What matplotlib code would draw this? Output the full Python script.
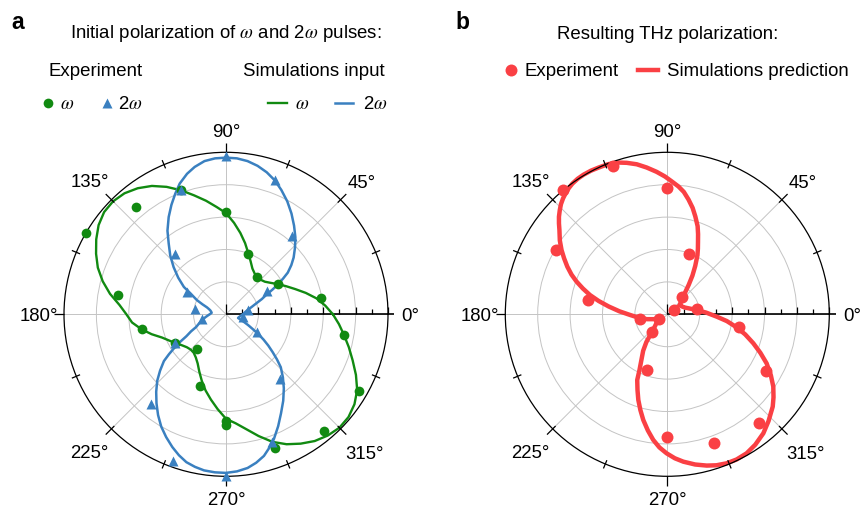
import numpy as np
import matplotlib
matplotlib.use('Agg')
import matplotlib.pyplot as plt
from matplotlib.lines import Line2D
from matplotlib.transforms import offset_copy

plt.rcParams['font.family'] = ['Liberation Sans', 'DejaVu Sans']
plt.rcParams['mathtext.fontset'] = 'stix'

W, H = 861, 508
GREEN = '#118a11'
BLUE = '#3a80c0'
RED = '#fa4044'
GRID = '#c4c4c4'

# ---------------- data (angles in degrees, normalised radius) ----------------
exp_angles = [10, 30, 50, 70, 90, 110, 130, 150, 170, 190, 210, 230, 250, 270, 290, 310, 330, 350]

omega_exp_angles = [10, 30, 50, 70, 90, 110, 130, 150, 170, 190, 210, 230, 250, 270, 270, 290, 310, 330, 350]
omega_exp_r = [0.597, 0.374, 0.299, 0.394, 0.632, 0.815, 0.867, 1.0, 0.679, 0.527, 0.36, 0.277,
               0.472, 0.66, 0.685, 0.879, 0.939, 0.95, 0.741]

two_omega_exp_r = [0.139, 0.293, 0.63, 0.881, 0.98, 0.815, 0.488, 0.281, 0.193, 0.15, 0.36, 0.72,
                   0.961, 1.0, 0.839, 0.523, 0.22, 0.105]

thz_exp_r = [0.184, 0.051, 0.143, 0.397, 0.778, 0.971, 1.0, 0.794, 0.495, 0.172, 0.06, 0.145,
             0.365, 0.755, 0.847, 0.878, 0.704, 0.45]

omega_sim_theta = [0, 5, 10, 15, 20, 25, 30, 35, 40, 45, 50, 55, 60, 65, 70, 75, 80, 85, 90, 95,
                   100, 105, 110, 115, 120, 125, 130, 135, 140, 145, 150, 155, 160, 165, 170, 175,
                   180, 185, 190, 195, 200, 205, 210, 215, 220, 225, 230, 235, 240, 245, 250, 255,
                   260, 265, 270, 275, 280, 285, 290, 295, 300, 305, 310, 315, 320, 325, 330, 335,
                   340, 345, 350, 355, 360]
omega_sim_r = [0.66, 0.615, 0.567, 0.51, 0.455, 0.41, 0.372, 0.338, 0.313, 0.302, 0.298, 0.308,
               0.326, 0.36, 0.402, 0.455, 0.51, 0.567, 0.625, 0.665, 0.712, 0.76, 0.815, 0.868,
               0.915, 0.95, 0.975, 0.986, 0.982, 0.96, 0.925, 0.885, 0.842, 0.788, 0.727, 0.66,
               0.615, 0.582, 0.53, 0.475, 0.42, 0.385, 0.357, 0.333, 0.316, 0.308, 0.31, 0.325,
               0.35, 0.39, 0.437, 0.487, 0.535, 0.588, 0.645, 0.675, 0.72, 0.778, 0.838, 0.885,
               0.922, 0.955, 0.977, 0.99, 0.987, 0.968, 0.935, 0.885, 0.832, 0.785, 0.74, 0.70,
               0.66]

two_omega_sim_theta = [90, 86, 82, 78, 74, 70, 66, 61.5, 57, 52.5, 48, 44, 40, 37, 34, 32, 30, 28,
                       26, 23, 20, 16, 12, 7, 2, -3, -8, -13, -17, -23, -26, -29, -31.5, -34,
                       -36.5, -39, -41.5, -44, -48, -52, -56.5, -61, -65, -69, -72, -75, -78.5,
                       -82, -86, -90, -94, -98, -101.5, -105, -108.5, -112, -116, -120, -124,
                       -128, -132, -136, -139.5, -143, -145, -147, -149, -151, -154, -157, -162,
                       -167, -172, -177, -181.5, -186, -190, -194, -197, -200, -203, -206, -210.5,
                       -213, -217.5, -222, -226.5, -231, -235, -239.5, -243.5, -247.2, -250.5,
                       -254.5, -258, -262, -266, -270]
two_omega_sim_r = [0.967, 0.965, 0.955, 0.937, 0.912, 0.88, 0.84, 0.793, 0.742, 0.69, 0.64, 0.592,
                   0.545, 0.505, 0.46, 0.415, 0.37, 0.325, 0.28, 0.24, 0.2, 0.165, 0.14, 0.12,
                   0.108, 0.097, 0.088, 0.081, 0.078, 0.12, 0.152, 0.19, 0.235, 0.28, 0.325, 0.37,
                   0.42, 0.47, 0.525, 0.58, 0.64, 0.7, 0.762, 0.825, 0.866, 0.905, 0.935, 0.958,
                   0.972, 0.979, 0.978, 0.973, 0.961, 0.945, 0.917, 0.884, 0.843, 0.8, 0.75, 0.697,
                   0.644, 0.59, 0.535, 0.48, 0.43, 0.38, 0.33, 0.28, 0.24, 0.2, 0.172, 0.15, 0.128,
                   0.11, 0.097, 0.089, 0.093, 0.1, 0.11, 0.125, 0.158, 0.2, 0.255, 0.31, 0.372,
                   0.435, 0.5, 0.562, 0.63, 0.697, 0.755, 0.808, 0.856, 0.9, 0.93, 0.955, 0.965,
                   0.967]

thz_sim_theta = [36.4, 44, 50, 54, 57, 60, 63, 65, 67, 69, 71, 74, 76.6, 79.5, 82.3, 85, 88, 91,
                 94.3, 98, 101.5, 105, 108, 111.5, 115, 118, 121, 123.5, 126, 128, 130, 132, 134,
                 136, 138, 140, 142, 145.5, 148.7, 151.5, 154.5, 157.5, 160.2, 163, 166, 169,
                 172.4, 176.5, 181, 188, 193.6, 201, 205, 209, 216, 222, 227, 230.5, 233, 236.5,
                 240.5, 243.5, 245.4, 248.5, 251.3, 254.3, 257.2, 260.5, 263.6, 266.6, 269.7,
                 273, 276.2, 280.5, 284.6, 288, 291.7, 295.5, 299.7, 304, 308.9, 313.5, 318.8,
                 322, 325.7, 329.5, 333.7, 337.5, 341.4, 345.5, 349.4, 353.5, 357.3, 362.5,
                 368.4, 374, 380.7, 388, 396.4]
thz_sim_r = [0.097, 0.12, 0.165, 0.225, 0.285, 0.345, 0.41, 0.447, 0.485, 0.53, 0.575, 0.628,
             0.675, 0.72, 0.762, 0.792, 0.82, 0.851, 0.882, 0.915, 0.945, 0.968, 0.985, 0.996, 1.0,
             1.004, 1.005, 1.003, 0.997, 0.988, 0.976, 0.962, 0.945, 0.923, 0.9, 0.873, 0.845,
             0.805, 0.764, 0.725, 0.684, 0.64, 0.595, 0.545, 0.492, 0.432, 0.365, 0.295, 0.23,
             0.17, 0.128, 0.084, 0.071, 0.064, 0.079, 0.097, 0.125, 0.165, 0.215, 0.27, 0.325,
             0.385, 0.446, 0.502, 0.558, 0.614, 0.669, 0.727, 0.78, 0.823, 0.858, 0.89, 0.915,
             0.943, 0.965, 0.98, 0.99, 0.993, 0.988, 0.971, 0.944, 0.908, 0.865, 0.832, 0.792,
             0.742, 0.684, 0.622, 0.56, 0.497, 0.435, 0.37, 0.305, 0.24, 0.183, 0.145, 0.117,
             0.103, 0.097]

angle_labels = ['0°', '45°', '90°', '135°', '180°', '225°', '270°', '315°']
angle_label_pos = [(0, 1.14), (44.5, 1.17), (90, 1.135), (135.5, 1.18),
                   (180, 1.155), (225, 1.195), (270, 1.132), (315, 1.205)]

rad = np.deg2rad
FS = 13.4


def setup(ax):
    ax.set_ylim(0, 1)
    ax.set_rticks([0.2, 0.4, 0.6, 0.8])
    ax.set_yticklabels([])
    ax.set_thetagrids(np.arange(0, 360, 45), labels=[''] * 8)
    ax.grid(True, color=GRID, lw=0.7)
    ax.spines['polar'].set_linewidth(0.9)
    ax.spines['polar'].set_color('k')
    ax.tick_params(axis='both', length=0, pad=0)
    for a in np.arange(0, 360, 22.5):
        if a == 0:
            continue
        if a % 90 == 0:
            r0, r1 = 1.0, 1.06
        elif a % 45 == 0:
            r0, r1 = 0.975, 1.05
        else:
            r0, r1 = 0.975, 1.03
        ax.plot([rad(a)] * 2, [r0, r1], color='k', lw=0.9, clip_on=False,
                solid_capstyle='butt', zorder=3)
    ax.plot([0, 0], [0, 1.04], color='k', lw=1.2, clip_on=False, zorder=1.8,
            solid_capstyle='butt')
    minor = [0.1, 0.3, 0.5, 0.7, 0.9]
    major = [0.2, 0.4, 0.6, 0.8, 1.0]
    ax.plot([0] * len(minor), minor, ls='', marker=2, ms=3.6, mew=0.9, color='k',
            clip_on=False, zorder=1.8)
    ax.plot([0] * len(major), major, ls='', marker=2, ms=5.0, mew=0.9, color='k',
            clip_on=False, zorder=1.8)
    ax.plot([0], [0], ls='', marker=2, ms=7.2, mew=0.9, color='k', clip_on=False, zorder=1.8)
    tr = offset_copy(ax.transData, fig=ax.figure, x=0, y=-2.5, units='dots')
    for lab, (th, r) in zip(angle_labels, angle_label_pos):
        ax.text(rad(th), r, lab, ha='center', va='center', fontsize=FS, clip_on=False,
                transform=tr)


fig = plt.figure(figsize=(W / 100, H / 100), dpi=100)
R = 162
ca = (226, 314.3)
cb = (667.3, 314.3)
axa = fig.add_axes([(ca[0] - R) / W, (H - ca[1] - R) / H, 2 * R / W, 2 * R / H], projection='polar')
axb = fig.add_axes([(cb[0] - R) / W, (H - cb[1] - R) / H, 2 * R / W, 2 * R / H], projection='polar')
setup(axa)
setup(axb)

# panel a
axa.plot(rad(np.array(omega_sim_theta)), omega_sim_r, color=GREEN, lw=1.7, clip_on=False,
         zorder=2, solid_joinstyle='round')
axa.plot(rad(np.array(two_omega_sim_theta)), two_omega_sim_r, color=BLUE, lw=1.8, clip_on=False,
         zorder=2.1, solid_joinstyle='round')
axa.plot(rad(np.array(omega_exp_angles)), omega_exp_r, ls='', marker='o', ms=7, color=GREEN,
         mec='none', clip_on=False, zorder=3)
axa.plot(rad(np.array(exp_angles)), two_omega_exp_r, ls='', marker='^', ms=7.5, color=BLUE,
         mec='none', clip_on=False, zorder=3.1)

# panel b
axb.plot(rad(np.array(thz_sim_theta)), thz_sim_r, color=RED, lw=3.2, clip_on=False, zorder=2,
         solid_joinstyle='round')
axb.plot(rad(np.array(exp_angles)), thz_exp_r, ls='', marker='o', ms=8.6, color=RED,
         mec='none', clip_on=False, zorder=3)


def fx(x):
    return x / W


def fy(y):
    return 1 - y / H


fig.text(fx(11.7), fy(29.3), 'a', fontsize=16.5, fontweight='bold', va='baseline')
fig.text(fx(455), fy(29.3), 'b', fontsize=16.5, fontweight='bold', va='baseline')
fig.text(fx(226), fy(38.5), r'Initial polarization of $\omega$ and 2$\omega$ pulses:',
         fontsize=FS, ha='center', va='baseline')
fig.text(fx(96), fy(76), 'Experiment', fontsize=FS, ha='center', va='baseline')
fig.text(fx(314), fy(76), 'Simulations input', fontsize=FS, ha='center', va='baseline')

# legend row panel a
ly = 103
fig.add_artist(Line2D([fx(48.3)], [fy(ly)], transform=fig.transFigure, marker='o', ms=7,
                      color=GREEN, mec='none', ls=''))
fig.text(fx(60), fy(109), r'$\omega$', fontsize=FS, ha='left', va='baseline')
fig.add_artist(Line2D([fx(106.7)], [fy(ly)], transform=fig.transFigure, marker='^', ms=7.5,
                      color=BLUE, mec='none', ls=''))
fig.text(fx(118), fy(109), r'2$\omega$', fontsize=FS, ha='left', va='baseline')
fig.add_artist(Line2D([fx(268.3), fx(286.7)], [fy(ly), fy(ly)], transform=fig.transFigure,
                      color=GREEN, lw=1.7))
fig.text(fx(295), fy(109), r'$\omega$', fontsize=FS, ha='left', va='baseline')
fig.add_artist(Line2D([fx(335), fx(353.3)], [fy(ly), fy(ly)], transform=fig.transFigure,
                      color=BLUE, lw=1.8))
fig.text(fx(363), fy(109), r'2$\omega$', fontsize=FS, ha='left', va='baseline')

# panel b texts
fig.text(fx(667.5), fy(39), 'Resulting THz polarization:', fontsize=FS, ha='center', va='baseline')
fig.add_artist(Line2D([fx(510.7)], [fy(70)], transform=fig.transFigure, marker='o', ms=8.6,
                      color=RED, mec='none', ls=''))
fig.text(fx(525), fy(76), 'Experiment', fontsize=FS, ha='left', va='baseline')
fig.add_artist(Line2D([fx(638.3), fx(657.7)], [fy(70), fy(70)], transform=fig.transFigure,
                      color=RED, lw=3.2))
fig.text(fx(666.7), fy(76), 'Simulations prediction', fontsize=FS, ha='left', va='baseline')

fig.savefig('out.png', dpi=100)
